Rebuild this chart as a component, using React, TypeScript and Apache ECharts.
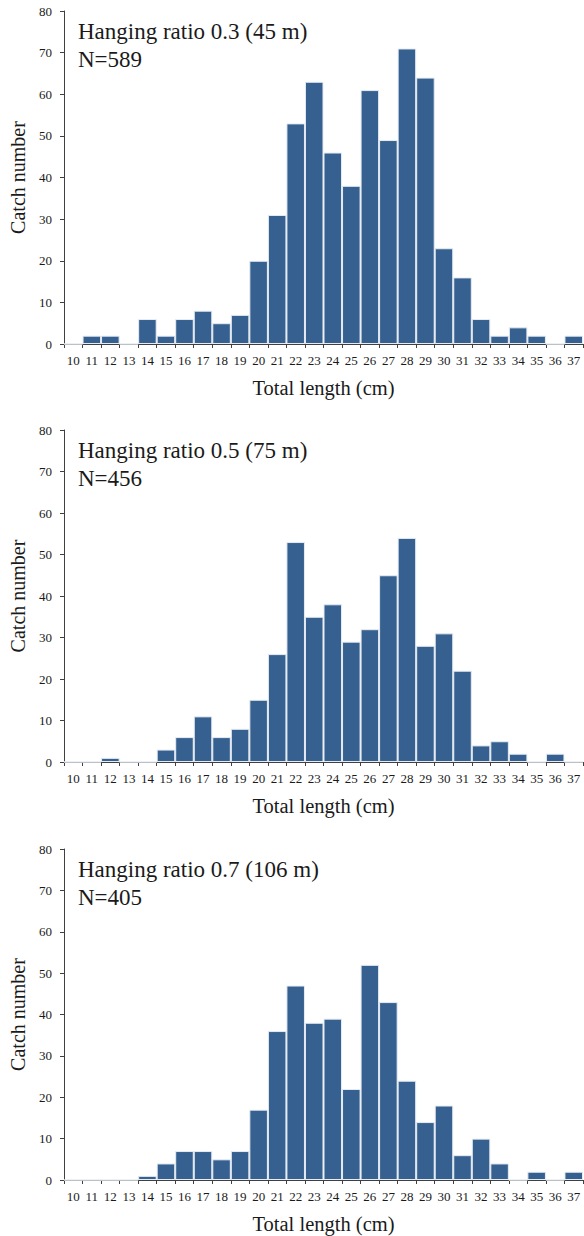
import React, { useEffect, useRef } from "react";
import * as echarts from "echarts";

const lengths = ["10","11","12","13","14","15","16","17","18","19","20","21","22","23","24","25","26","27","28","29","30","31","32","33","34","35","36","37"];
const ratio03 = [0,2,2,0,6,2,6,8,5,7,20,31,53,63,46,38,61,49,71,64,23,16,6,2,4,2,0,2];
const ratio05 = [0,0,1,0,0,3,6,11,6,8,15,26,53,35,38,29,32,45,54,28,31,22,4,5,2,0,2,0];
const ratio07 = [0,0,0,0,1,4,7,7,5,7,17,36,47,38,39,22,52,43,24,14,18,6,10,4,0,2,0,2];
const panelTitles = ["Hanging ratio 0.3 (45 m)", "Hanging ratio 0.5 (75 m)", "Hanging ratio 0.7 (106 m)"];
const panelN = ["N=589", "N=456", "N=405"];
const yTicks = [0, 10, 20, 30, 40, 50, 60, 70, 80];

const FONT = "Liberation Serif";

export default function App() {
  const ref = useRef<HTMLDivElement>(null);
  useEffect(() => {
    if (!ref.current) return;
    const chart = echarts.init(ref.current, null, { renderer: "svg" });
    const grids = [
      { left: 59, width: 524, top: 11, height: 333 },
      { left: 59, width: 524, top: 430, height: 332 },
      { left: 59, width: 524, top: 849, height: 331 },
    ];
    const datasets = [ratio03, ratio05, ratio07];
    const axisLine = { show: true, lineStyle: { color: "#404040", width: 1 } };
    chart.setOption({
      animation: false,
      backgroundColor: "#ffffff",
      title: grids.map((g, i) => ({
        text: panelTitles[i] + "\n" + panelN[i],
        left: 73,
        top: g.top + 1,
        textStyle: { fontFamily: FONT, fontSize: 23, fontWeight: "normal", color: "#1a1a1a", lineHeight: 28 },
      })),
      grid: grids,
      xAxis: grids.map((_, i) => ({
        type: "category",
        gridIndex: i,
        data: lengths,
        axisLine,
        axisTick: { show: true, length: 4, alignWithLabel: false, lineStyle: { color: "#404040" } },
        axisLabel: { interval: 0, fontFamily: FONT, fontSize: 13, color: "#1a1a1a", margin: 10 },
        name: "Total length (cm)",
        nameLocation: "middle",
        nameGap: 33,
        nameTextStyle: { fontFamily: FONT, fontSize: 20.5, color: "#1a1a1a" },
      })),
      yAxis: grids.map((_, i) => ({
        type: "value",
        gridIndex: i,
        min: yTicks[0],
        max: yTicks[yTicks.length - 1],
        interval: 10,
        splitLine: { show: false },
        axisLine,
        axisTick: { show: true, length: 4, lineStyle: { color: "#404040" } },
        axisLabel: { fontFamily: FONT, fontSize: 13, color: "#1a1a1a", margin: 12 },
        name: "Catch number",
        nameLocation: "middle",
        nameGap: 36,
        nameTextStyle: { fontFamily: FONT, fontSize: 20, color: "#1a1a1a" },
      })),
      series: datasets.map((d, i) => ({
        type: "bar",
        xAxisIndex: i,
        yAxisIndex: i,
        data: d,
        barCategoryGap: "0%",
        itemStyle: { color: "#36608f", borderColor: "#e6ecf3", borderWidth: 1 },
      })),
    });
    return () => chart.dispose();
  }, []);
  return <div ref={ref} style={{ position: "absolute", left: 0, top: 0, width: 584, height: 1236 }} />;
}
